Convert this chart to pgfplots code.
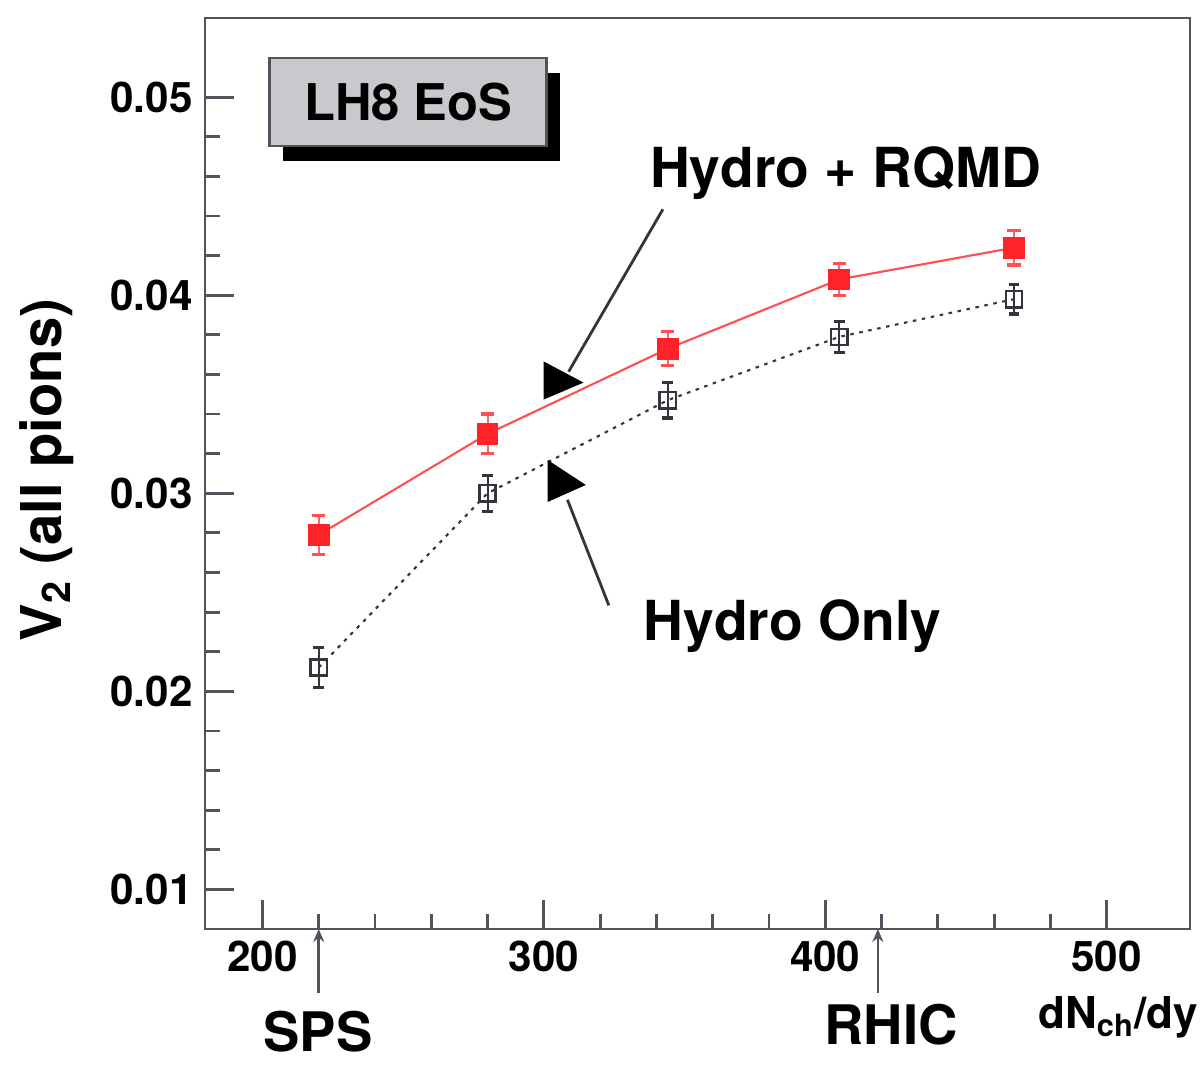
\documentclass[border=0pt]{standalone}
\usepackage{fontspec}
\setmainfont{TeX Gyre Heros}
\usepackage{pgfplots}
\pgfplotsset{compat=1.18}
\usetikzlibrary{shadows,arrows.meta}

\definecolor{framegray}{RGB}{80,84,92}
\definecolor{rqmdred}{RGB}{255,35,40}
\definecolor{hydrogray}{RGB}{50,53,60}
\definecolor{boxgray}{RGB}{200,201,205}

\newcommand{\fs}[1]{\fontsize{#1}{#1}\selectfont\bfseries}

\begin{document}
\begin{tikzpicture}
\begin{axis}[
  name=ax,
  scale only axis,
  width=9.85cm, height=9.11cm,
  xmin=179.6, xmax=529.6,
  ymin=0.008, ymax=0.054,
  axis line style={framegray, line width=0.8pt},
  xtick={200,300,400,500},
  ytick={0.01,0.02,0.03,0.04,0.05},
  minor x tick num=4,
  minor y tick num=4,
  tick align=inside,
  tick pos=left,
  major tick length=0.29cm,
  minor tick length=0.15cm,
  tick style={framegray, line width=0.8pt},
  scaled y ticks=false,
  yticklabel style={/pgf/number format/fixed,
    /pgf/number format/precision=2,
    /pgf/number format/fixed zerofill},
  /pgf/number format/assume math mode=true,
  tick label style={font=\fs{12}},
  clip=false,
]

% Hydro + RQMD
\addplot[rqmdred!80, line width=0.6pt,
  mark=square*, mark size=2.8pt,
  mark options={solid, fill=rqmdred, draw=rqmdred},
  error bars/.cd, y dir=both, y explicit,
  error bar style={rqmdred!70, line width=0.6pt},
  error mark options={rotate=90, rqmdred!80, mark size=1.9pt, line width=0.9pt}]
coordinates {
  (220,0.0279) +- (0,0.0010)
  (280,0.0330) +- (0,0.0010)
  (344,0.0373) +- (0,0.00085)
  (405,0.0408) +- (0,0.0008)
  (467,0.0424) +- (0,0.00087)
};

% Hydro only
\addplot[hydrogray, line width=0.6pt, dash pattern=on 1pt off 1.6pt,
  mark=square, mark size=2.3pt,
  mark options={solid, draw=hydrogray, line width=0.7pt, fill=white},
  error bars/.cd, y dir=both, y explicit,
  error bar style={hydrogray, line width=0.6pt, solid},
  error mark options={rotate=90, hydrogray, mark size=1.5pt, line width=0.9pt, solid}]
coordinates {
  (220,0.0212) +- (0,0.0010)
  (280,0.0300) +- (0,0.0009)
  (344,0.0347) +- (0,0.0009)
  (405,0.0379) +- (0,0.00077)
  (467,0.0398) +- (0,0.00075)
};

% EoS label box
\node[draw=framegray, line width=0.8pt, fill=boxgray,
  minimum width=2.77cm, minimum height=0.88cm, inner sep=0pt,
  drop shadow={shadow xshift=0.13cm, shadow yshift=-0.15cm, fill=black, opacity=1},
  font=\fs{14.4}] at (axis cs:251.8,0.04976) {LH8 EoS};

% curve labels and pointers
\node[font=\fs{15.7}, anchor=base] at (axis cs:407.2,0.04546) {Hydro + RQMD};
\node[font=\fs{15.7}, anchor=base] at (axis cs:388.3,0.02257) {Hydro Only};

\draw[hydrogray, line width=0.8pt] (axis cs:342.3,0.04434) -- (axis cs:308.8,0.03614);
\fill[black] (axis cs:299.9,0.03666) -- (axis cs:299.9,0.03473) -- (axis cs:314.1,0.03559) -- cycle;
\draw[hydrogray, line width=0.8pt] (axis cs:308.4,0.02967) -- (axis cs:323.1,0.02434);
\fill[black] (axis cs:301.3,0.03169) -- (axis cs:301.3,0.02956) -- (axis cs:314.9,0.03042) -- cycle;

% axis titles
\node[font=\fs{16}, rotate=90, anchor=base] at (axis cs:128.5,0.03118) {V\textsubscript{2} (all pions)};
\node[font=\fs{12.5}, anchor=base] at (axis cs:504.1,0.002977) {dN\textsubscript{ch}/dy};

% beam energies
\draw[framegray, line width=0.7pt, -{Stealth[length=0.13cm, width=0.11cm]}]
  (axis cs:220,0.004749) -- (axis cs:220,0.008);
\draw[framegray, line width=0.7pt, -{Stealth[length=0.13cm, width=0.11cm]}]
  (axis cs:418.7,0.004749) -- (axis cs:418.7,0.008);
\node[font=\fs{15.5}, anchor=base] at (axis cs:219.7,0.001813) {SPS};
\node[font=\fs{15.5}, anchor=base] at (axis cs:423.4,0.002167) {RHIC};
\end{axis}
\pgfresetboundingbox
\path ([shift={(-2.05cm,-1.40cm)}]ax.south west) rectangle ([shift={(0.11cm,0.18cm)}]ax.north east);
\end{tikzpicture}
\end{document}
